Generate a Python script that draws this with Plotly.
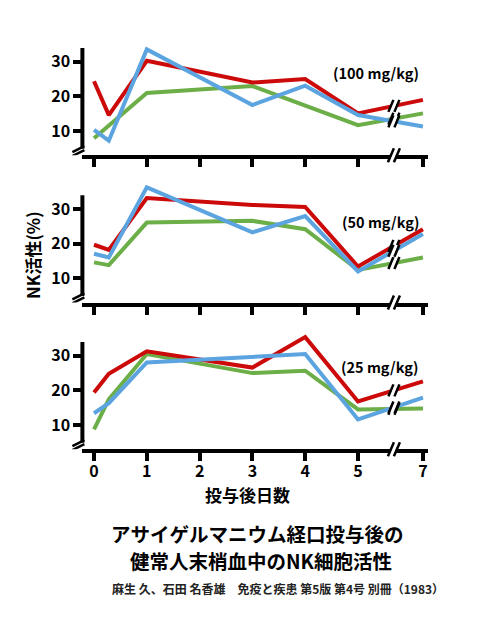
import plotly.graph_objects as go

# ---------------- data ----------------
days = [0, 0.28, 1, 3, 4, 5, 7]
tick_days = [0, 1, 2, 3, 4, 5, 7]
tick_labels = ["0", "1", "2", "3", "4", "5", "7"]

red_100 = [24.4, 14.6, 30.3, 24.0, 25.0, 15.1, 19.0]
blue_100 = [10.3, 7.2, 33.6, 17.5, 23.1, 14.6, 11.3]
green_100 = [7.9, None, 21.0, 23.0, None, 11.7, 15.1]

red_50 = [19.7, 18.2, 33.2, 31.2, 30.6, 13.4, 24.2]
blue_50 = [17.1, 16.0, 36.3, 23.3, 28.0, 12.0, 22.8]
green_50 = [14.6, 13.8, 26.1, 26.6, 24.2, 12.4, 16.0]

red_25 = [19.4, 24.8, 31.3, 26.6, 35.4, 16.8, 22.6]
blue_25 = [13.4, 16.3, 28.1, 29.8, 30.5, 11.6, 17.9]
green_25 = [8.7, 17.4, 30.5, 25.0, 25.7, 14.5, 14.8]

dose_labels = ["(100 mg/kg)", "(50 mg/kg)", "(25 mg/kg)"]
y_ticks = [10, 20, 30]

title_1 = "アサイゲルマニウム経口投与後の"
title_2 = "健常人末梢血中のNK細胞活性"
source = "麻生 久、石田 名香雄　免疫と疾患 第5版 第4号 別冊（1983）"
x_title = "投与後日数"
y_title = "NK活性(%)"

# ---------------- styling ----------------
RED = "#cc0a0a"
BLUE = "#5ba4e0"
GREEN = "#6cae48"
FONT = "Noto Sans CJK JP"
BREAK_X = 5.68
COMPRESS = 0.615  # day 5 -> 7 drawn compressed (axis break)


def pos(d):
    return d if d <= 5 else 5 + (d - 5) * COMPRESS


def val_at(xs, ys, x):
    pts = [(a, b) for a, b in zip(xs, ys) if b is not None]
    for (x0, y0), (x1, y1) in zip(pts[:-1], pts[1:]):
        if x0 <= x <= x1:
            return y0 + (y1 - y0) * (x - x0) / (x1 - x0)
    return None


panels = [
    (green_100, red_100, blue_100),
    (green_50, red_50, blue_50),
    (green_25, red_25, blue_25),
]
colors = (GREEN, RED, BLUE)
y_domains = [[0.75168, 0.93984], [0.516, 0.70416], [0.28128, 0.46944]]
x_domain = [0.16816, 0.87286]
x_pos = [pos(d) for d in days]
tick_pos = [pos(d) for d in tick_days]

fig = go.Figure()
shapes = []
annotations = []

for i, series in enumerate(panels):
    k = "" if i == 0 else str(i + 1)
    xr, yr = "x" + k, "y" + k
    for ys, c in zip(series, colors):
        fig.add_trace(go.Scatter(
            x=x_pos, y=ys, mode="lines", connectgaps=True,
            line=dict(color=c, width=4), xaxis=xr, yaxis=yr,
            showlegend=False, hoverinfo="skip"))
        yb = val_at(x_pos, ys, BREAK_X)
        if yb is not None:
            shapes.append(dict(type="line", xref=xr, yref=yr, xsizemode="pixel",
                               ysizemode="pixel", xanchor=BREAK_X, yanchor=yb,
                               x0=-2, y0=-6, x1=2, y1=6,
                               line=dict(color="white", width=4)))
            for dx in (-3, 3):
                shapes.append(dict(type="line", xref=xr, yref=yr, xsizemode="pixel",
                                   ysizemode="pixel", xanchor=BREAK_X, yanchor=yb,
                                   x0=dx - 2.5, y0=-6, x1=dx + 2.5, y1=6,
                                   line=dict(color="black", width=2.5)))
    # y axis line
    shapes.append(dict(type="line", xref=xr + " domain", yref=yr,
                       x0=0, x1=0, y0=4.9, y1=34,
                       line=dict(color="black", width=4)))
    # y-axis break "//"
    for dy in (0, 4):
        shapes.append(dict(type="line", xref=xr + " domain", yref=yr,
                           xsizemode="pixel", ysizemode="pixel", xanchor=0, yanchor=4.2,
                           x0=-10, y0=-5 + dy, x1=2, y1=1 + dy,
                           line=dict(color="black", width=2.5)))
    # x-axis break
    shapes.append(dict(type="line", xref=xr, yref=yr + " domain", xsizemode="pixel",
                       ysizemode="pixel", xanchor=BREAK_X, yanchor=0,
                       x0=-2.5, y0=-7, x1=2.5, y1=7,
                       line=dict(color="white", width=4)))
    for dx in (-3, 3):
        shapes.append(dict(type="line", xref=xr, yref=yr + " domain", xsizemode="pixel",
                           ysizemode="pixel", xanchor=BREAK_X, yanchor=0,
                           x0=dx - 3, y0=-7, x1=dx + 3, y1=7,
                           line=dict(color="black", width=2.5)))

    fig.layout["xaxis" + k] = dict(
        domain=x_domain, anchor=yr, range=[-0.22, 6.32],
        tickvals=tick_pos, ticktext=tick_labels, showticklabels=(i == 2),
        ticks="outside", ticklen=8, tickwidth=3.5, tickcolor="black",
        ticklabelstandoff=-3,
        showline=True, linewidth=4, linecolor="black", showgrid=False,
        zeroline=False, tickfont=dict(family=FONT, size=16, color="black", weight="bold"))
    fig.layout["yaxis" + k] = dict(
        domain=y_domains[i], anchor=xr, range=[3, 37],
        tickvals=y_ticks, ticks="outside", ticklen=8, tickwidth=3.5, tickcolor="black",
        showline=False, showgrid=False, zeroline=False,
        tickfont=dict(family=FONT, size=16, color="black", weight="bold"))

ann_pos = [(5.34, 27.0), (5.43, 26.4), (5.42, 26.85)]
for i, lab in enumerate(dose_labels):
    k = "" if i == 0 else str(i + 1)
    annotations.append(dict(text=lab, x=ann_pos[i][0], y=ann_pos[i][1],
                            xref="x" + k, yref="y" + k, showarrow=False,
                            xanchor="center", yanchor="middle",
                            font=dict(family=FONT, size=14.5, color="black", weight="bold")))

paper_text = [
    (y_title, 0.0653, 0.592, 17, -90, "black"),
    (x_title, 0.506, 0.2096, 17, 0, "black"),
    (title_1, 0.5245, 0.1472, 19.5, 0, "black"),
    (title_2, 0.5327, 0.104, 19.5, 0, "black"),
    (source, 0.567, 0.0592, 12, 0, "#222222"),
]
for txt, xx, yy, sz, ang, col in paper_text:
    annotations.append(dict(text=txt, x=xx, y=yy, xref="paper", yref="paper",
                            xanchor="center", yanchor="middle", textangle=ang,
                            showarrow=False,
                            font=dict(family=FONT, size=sz, color=col, weight="bold")))

fig.update_layout(
    width=490, height=625, margin=dict(l=0, r=0, t=0, b=0),
    paper_bgcolor="white", plot_bgcolor="white",
    shapes=shapes, annotations=annotations, showlegend=False,
)

fig.write_html("out.html")
